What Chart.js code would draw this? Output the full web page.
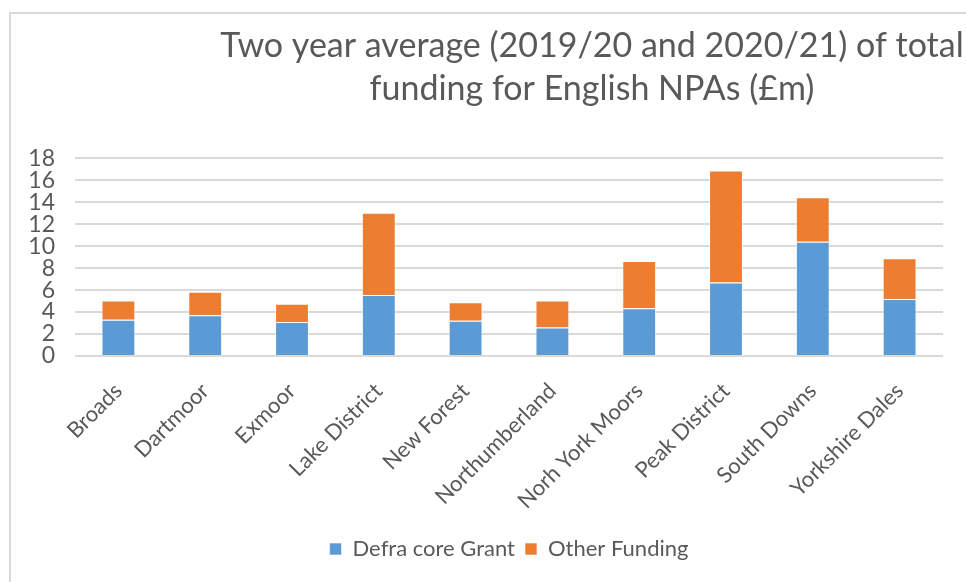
<!doctype html>
<html>
<head>
  <meta charset="utf-8">
  <title>English NPA funding</title>
  <script src="https://cdn.jsdelivr.net/npm/chart.js@4.4.1/dist/chart.umd.min.js"></script>
  <style>
    html, body { margin: 0; padding: 0; background: #fff; overflow: hidden; }
    #frame {
      position: absolute; left: 9px; top: 12px;
      border-top: 2px solid #d9d9d9; border-left: 2px solid #d9d9d9;
      width: 1200px; height: 600px;
    }
    #myChart { display: block; }
  </style>
</head>
<body>
  <div id="frame">
    <canvas id="myChart" width="1162" height="570"></canvas>
  </div>

  <script>
    // national park authorities, £m, two year average
    var parks = ['Broads', 'Dartmoor', 'Exmoor', 'Lake District', 'New Forest',
                 'Northumberland', 'Norh York Moors', 'Peak District', 'South Downs', 'Yorkshire Dales'];
    var defraCore = [3.3, 3.7, 3.1, 5.55, 3.2, 2.6, 4.35, 6.7, 10.4, 5.2];
    var otherFunding = [1.75, 2.15, 1.65, 7.5, 1.7, 2.45, 4.3, 10.2, 4.05, 3.7];
    var yTicks = [0, 2, 4, 6, 8, 10, 12, 14, 16, 18];

    var grey = '#595959';
    var fontName = 'Lato, "Open Sans", sans-serif';

    var ctx = document.getElementById('myChart').getContext('2d');
    var chart = new Chart(ctx, {
      type: 'bar',
      data: {
        labels: parks,
        datasets: [{
          label: 'Defra core Grant',
          data: defraCore,
          backgroundColor: '#5b9bd5',
          borderColor: 'rgba(255,255,255,0.6)',
          borderWidth: 1,
          barPercentage: 0.39,
          categoryPercentage: 1
        }, {
          label: 'Other Funding',
          data: otherFunding,
          backgroundColor: '#ed7d31',
          borderColor: 'rgba(255,255,255,0.6)',
          borderWidth: 1,
          barPercentage: 0.39,
          categoryPercentage: 1
        }]
      },
      options: {
        responsive: false,
        animation: false,
        layout: { padding: { left: 0, right: 0, top: 0, bottom: 14 } },
        plugins: {
          title: {
            display: true,
            text: ['Two year average (2019/20 and 2020/21) of total', 'funding for English NPAs (£m)'],
            color: grey,
            font: { family: fontName, size: 34, weight: 'normal', lineHeight: 1.27 },
            padding: { top: 10, bottom: 48 }
          },
          legend: {
            position: 'bottom',
            fullSize: false,
            labels: {
              color: grey,
              font: { family: fontName, size: 22 },
              boxWidth: 12,
              boxHeight: 12,
              padding: 10
            }
          },
          tooltip: { enabled: false }
        },
        scales: {
          x: {
            stacked: true,
            grid: { display: false },
            border: { display: false },
            ticks: {
              color: grey,
              font: { family: fontName, size: 22 },
              maxRotation: 45,
              minRotation: 45,
              autoSkip: false,
              padding: 14
            }
          },
          y: {
            stacked: true,
            min: 0,
            max: 18,
            afterBuildTicks: function (axis) {
              axis.ticks = yTicks.map(function (v) { return { value: v }; });
            },
            afterFit: function (axis) { axis.width = 64; },
            grid: { color: '#d9d9d9', lineWidth: 2, drawTicks: false },
            border: { display: false },
            ticks: {
              color: grey,
              font: { family: fontName, size: 23 },
              autoSkip: false,
              padding: 20
            }
          },
          // empty right-hand margin so the plot stops short of the frame edge
          gap: {
            position: 'right',
            display: true,
            afterFit: function (axis) { axis.width = 230; },
            grid: { display: false },
            border: { display: false },
            ticks: { display: false }
          }
        }
      }
    });
  </script>
</body>
</html>
